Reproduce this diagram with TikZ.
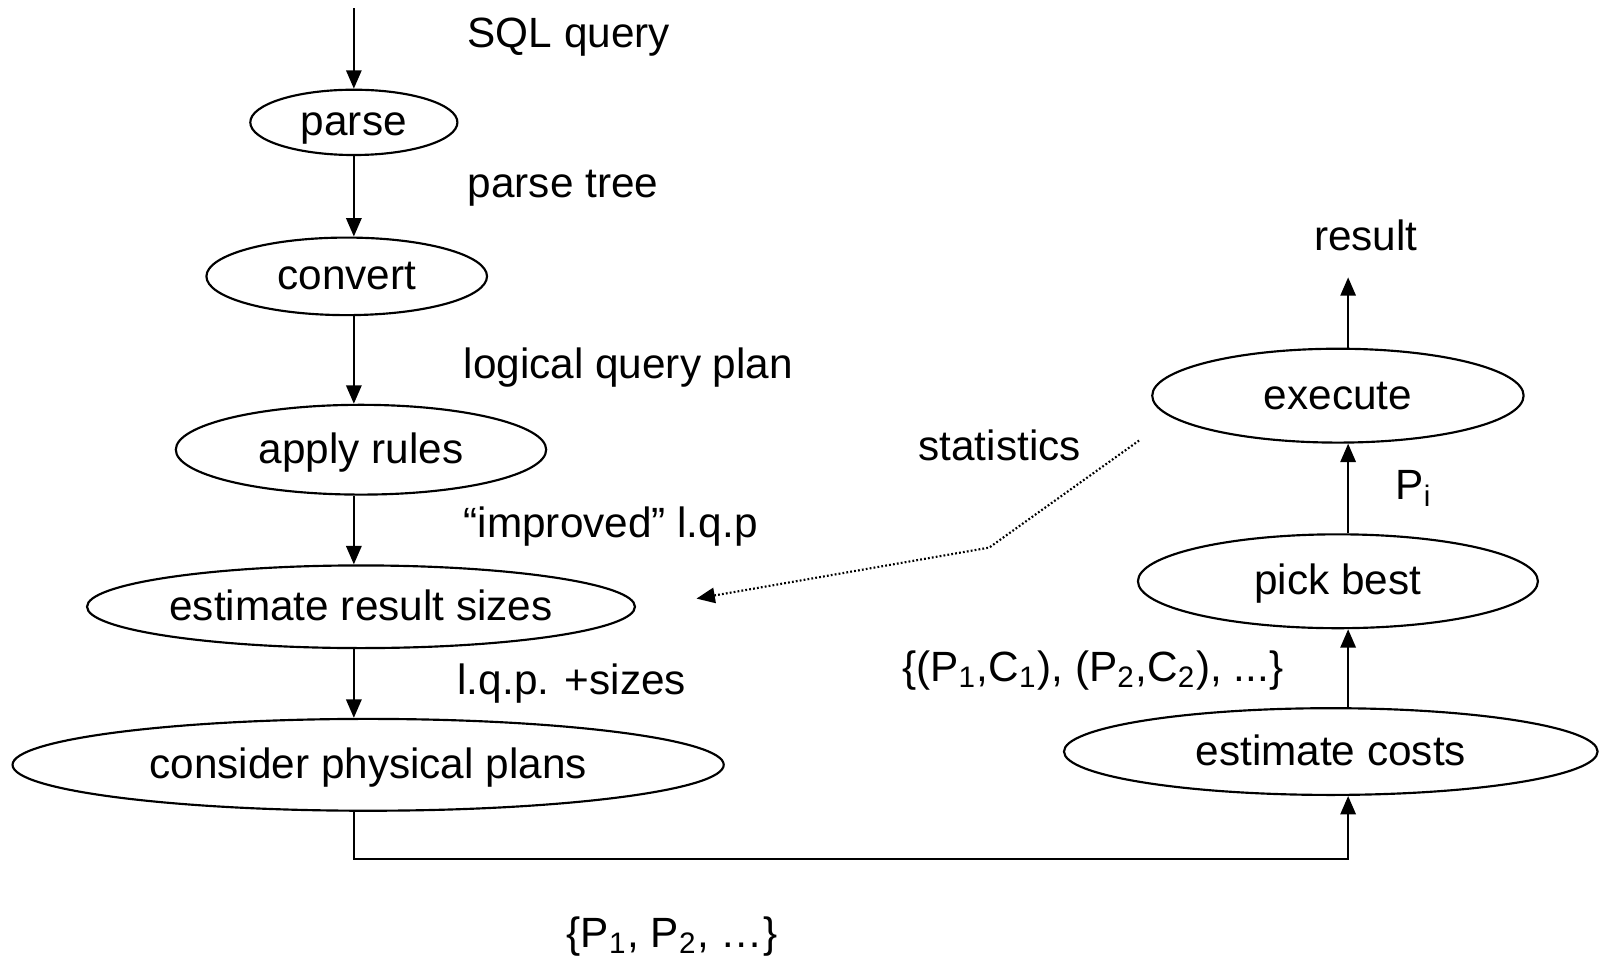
\documentclass[tikz,border=0pt]{standalone}
\usepackage{fontspec}
\setmainfont{Liberation Sans}
\usetikzlibrary{shapes.geometric,arrows.meta}
\newcommand{\lowidx}[1]{\textsubscript{#1}}

\begin{document}
\begin{tikzpicture}[x=0.01cm,y=-0.01cm,
  font=\fontsize{11.8}{14}\selectfont,
  stage/.style={draw,ellipse,line width=0.6pt,inner sep=0pt,text height=0.96em,text depth=0.2em},
  lbl/.style={anchor=base west,inner sep=0pt},
  arr/.style={line width=0.6pt,-{Triangle[length=0.18cm,width=0.15cm]}},
  feed/.style={arr,dash pattern=on 0.5pt off 0.6pt}]
\useasboundingbox (0,0) rectangle (1568,940);

% guide lines for the two columns of arrows
\coordinate (spine) at (347,0);
\coordinate (rspine) at (1322,0);
\coordinate (entry) at (347,8);
\coordinate (bus) at (0,842);
\coordinate (resultend) at (1322,272);
\coordinate (statsrc) at (1117,432);
\coordinate (statbend) at (970,537);
\coordinate (statend) at (683,587);

% left column: query compilation
\node[stage,minimum width=2.03cm,minimum height=0.64cm] (parse) at (347,120) {parse};
\node[stage,minimum width=2.75cm,minimum height=0.76cm] (convert) at (340,271) {convert};
\node[stage,minimum width=3.63cm,minimum height=0.88cm] (apply) at (354,441) {apply rules};
\node[stage,minimum width=5.37cm,minimum height=0.81cm] (sizes) at (354,595) {estimate result sizes};
\node[stage,minimum width=6.97cm,minimum height=0.90cm] (consider) at (361,750) {consider physical plans};

% right column: costing and execution
\node[stage,minimum width=5.23cm,minimum height=0.85cm] (costs) at (1305,737) {estimate costs};
\node[stage,minimum width=3.92cm,minimum height=0.92cm] (pick) at (1312,570) {pick best};
\node[stage,minimum width=3.64cm,minimum height=0.92cm] (execute) at (1312,388) {execute};

% labels
\node[lbl] (tsql) at (458,47) {SQL query};
\node[lbl] (ttree) at (458,194) {parse tree};
\node[lbl] (tlqp) at (454,371) {logical query plan};
\node[lbl] (timp) at (454,527) {“improved” l.q.p};
\node[lbl] (tsz) at (448,681) {l.q.p. +sizes};
\node[lbl] (tstat) at (900,452) {statistics};
\node[lbl] (tres) at (1288,246) {result};
\node[lbl] (tpi) at (1368,490) {P\lowidx{i}};
\node[lbl] (tpc) at (884,668) {\{(P\lowidx{1},C\lowidx{1}), (P\lowidx{2},C\lowidx{2}), ...\}};
\node[lbl] (tplans) at (555,929) {\{P\lowidx{1}, P\lowidx{2}, …\}};

% connectors
\draw[arr] (entry) -- (parse.north -| spine);
\draw[arr] (parse.south -| spine) -- (convert.north -| spine);
\draw[arr] (convert.south -| spine) -- (apply.north -| spine);
\draw[arr] (apply.south -| spine) -- (sizes.north -| spine);
\draw[arr] (sizes.south -| spine) -- (consider.north -| spine);
\draw[arr] (consider.south -| spine) -- (spine |- bus) -- (rspine |- bus) -- (costs.south -| rspine);
\draw[arr] (costs.north -| rspine) -- (pick.south -| rspine);
\draw[arr] (pick.north -| rspine) -- (execute.south -| rspine);
\draw[arr] (execute.north -| rspine) -- (resultend);
\draw[feed] (statsrc) -- (statbend) -- (statend);
\end{tikzpicture}
\end{document}
